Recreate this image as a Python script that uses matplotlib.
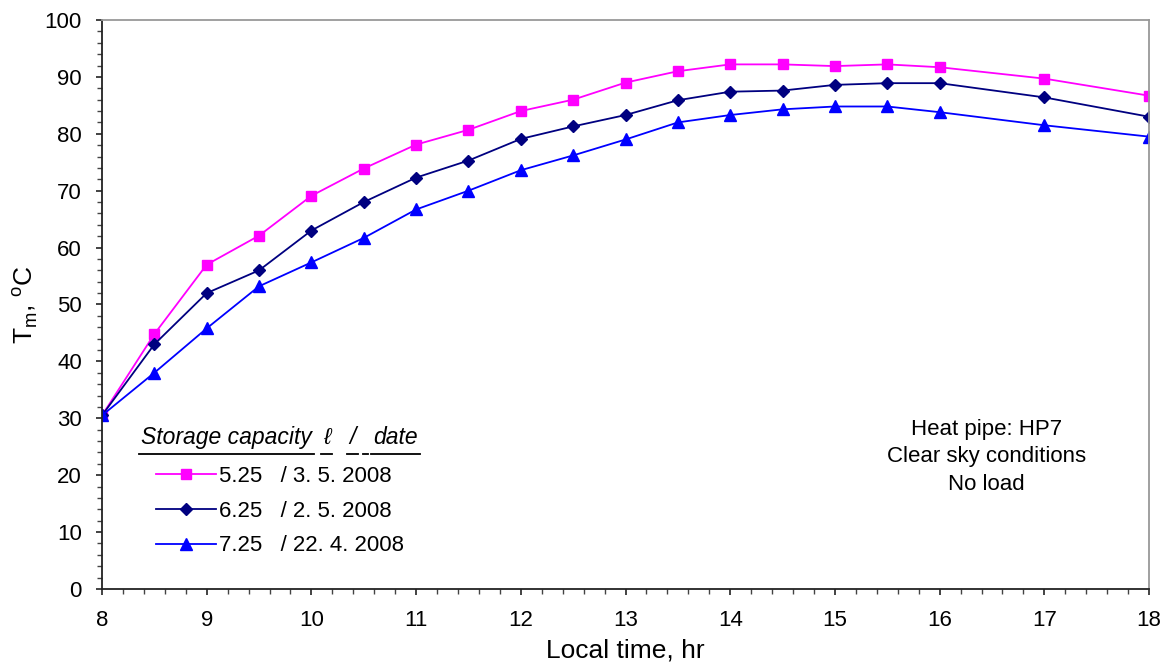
import matplotlib
matplotlib.use('Agg')
from matplotlib import pyplot as plt
from matplotlib.ticker import MultipleLocator

plt.rcParams['font.family'] = ['Liberation Sans', 'DejaVu Sans']
plt.rcParams['mathtext.fontset'] = 'custom'
plt.rcParams['mathtext.rm'] = 'Liberation Sans'

hours = [8, 8.5, 9, 9.5, 10, 10.5, 11, 11.5, 12, 12.5, 13, 13.5, 14, 14.5, 15, 15.5, 16, 17, 18]
t_525 = [30.5, 44.8, 57.0, 62.1, 69.1, 73.9, 78.1, 80.7, 84.0, 86.0, 89.0, 91.0, 92.2, 92.2, 91.9, 92.2, 91.7, 89.7, 86.7]
t_625 = [30.5, 43.0, 52.0, 56.0, 63.0, 68.0, 72.3, 75.3, 79.1, 81.3, 83.3, 85.9, 87.4, 87.6, 88.6, 88.9, 88.9, 86.4, 83.0]
t_725 = [30.5, 38.0, 45.8, 53.2, 57.4, 61.7, 66.7, 70.0, 73.6, 76.2, 79.0, 82.0, 83.3, 84.3, 84.8, 84.8, 83.8, 81.5, 79.5]
labels = ['5.25   / 3. 5. 2008', '6.25   / 2. 5. 2008', '7.25   / 22. 4. 2008']

fig = plt.figure(figsize=(11.63, 6.67), dpi=100)
ax = fig.add_axes([0.0877, 0.117, 0.9003, 0.853])

ax.plot(hours, t_525, color='#FF00FF', marker='s', markersize=7.5, lw=1.3, label=labels[0])
ax.plot(hours, t_625, color='#000080', marker='D', markersize=6.5, lw=1.3, label=labels[1])
ax.plot(hours, t_725, color='#0000FF', marker='^', markersize=8.5, lw=1.3, label=labels[2])

ax.set_xlim(8, 18)
ax.set_ylim(0, 100)
ax.xaxis.set_major_locator(MultipleLocator(1))
ax.xaxis.set_minor_locator(MultipleLocator(0.2))
ax.yaxis.set_major_locator(MultipleLocator(10))
ax.yaxis.set_minor_locator(MultipleLocator(2))
ax.tick_params(which='major', direction='out', length=4.5, width=1.2, labelsize=16, color='#222222')
ax.tick_params(which='minor', direction='out', length=3.5, width=1.0, color='#444444')
ax.tick_params(axis='x', which='major', pad=11)
ax.tick_params(axis='y', which='major', pad=10)

for s in ['left', 'bottom']:
    ax.spines[s].set_color('#222222')
    ax.spines[s].set_linewidth(1.3)
for s in ['top', 'right']:
    ax.spines[s].set_color('#999999')
    ax.spines[s].set_linewidth(1.3)

ax.set_xlabel('Local time, hr', fontsize=19, labelpad=5)
ax.set_ylabel(r'T$_\mathregular{m}$, $^\mathregular{o}$C', fontsize=19, labelpad=3)

leg = ax.legend(loc='upper left', bbox_to_anchor=(0.043, 0.232), frameon=False,
                fontsize=16, handlelength=2.7, handletextpad=0.12, labelspacing=0.62,
                borderaxespad=0)

# legend header with underlines
head = [('Storage capacity', 0.0372), ('\u2113', 0.211), ('/', 0.236), ('date', 0.259)]
texts = []
for s, xx in head:
    t = ax.text(xx, 0.267, s, transform=ax.transAxes, fontsize=16.5, style='italic',
                va='center', ha='left')
    texts.append(t)
fig.canvas.draw()
inv = ax.transAxes.inverted()
r = fig.canvas.get_renderer()
yline = 0.267 - 0.029
for t in texts:
    bb = t.get_window_extent(r)
    (x0, _), (x1, _) = inv.transform([(bb.x0, bb.y0), (bb.x1, bb.y1)])
    ax.plot([x0 - 0.002, x1 + 0.002], [yline, yline], transform=ax.transAxes,
            color='black', lw=1.3, clip_on=False)
ax.plot([0.249, 0.254], [yline, yline], transform=ax.transAxes, color='black', lw=1.3)

ax.text(0.845, 0.232, 'Heat pipe: HP7\nClear sky conditions\nNo load', transform=ax.transAxes,
        fontsize=16, ha='center', va='center', linespacing=1.4)

fig.savefig('out.png', dpi=100)
